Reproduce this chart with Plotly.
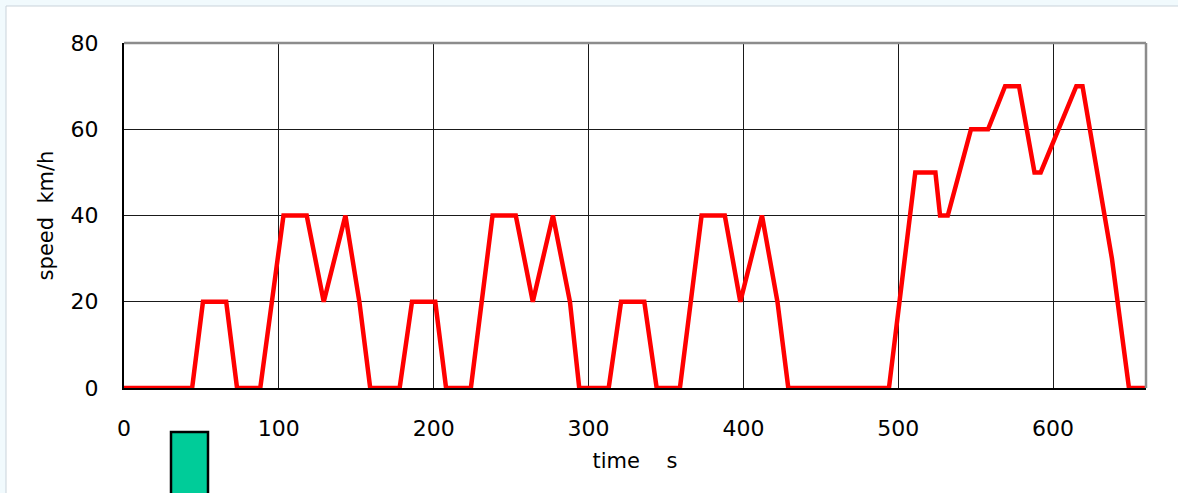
import plotly.graph_objects as go

# ---- data ----
time_s = [0, 44, 51, 66, 73, 88, 103, 118, 129, 143, 152, 159,
          178, 186, 201, 208, 224, 238, 253, 264, 277, 288, 294,
          313, 321, 336, 344, 359, 373, 388, 398, 412, 422, 429,
          494, 511, 524, 527, 532, 547, 558, 569, 578, 588, 592, 615, 619, 638, 649, 660]
speed_kmh = [0, 0, 20, 20, 0, 0, 40, 40, 20, 40, 20, 0,
             0, 20, 20, 0, 0, 40, 40, 20, 40, 20, 0,
             0, 20, 20, 0, 0, 40, 40, 20, 40, 20, 0,
             0, 50, 50, 40, 40, 60, 60, 70, 70, 50, 50, 70, 70, 30, 0, 0]

x_ticks = [0, 100, 200, 300, 400, 500, 600]
y_ticks = [0, 20, 40, 60, 80]
x_title = "time\u00a0\u00a0\u00a0\u00a0s"
y_title = "speed\u00a0\u00a0km/h"

# ---- layout geometry (pixels) ----
W, H = 1178, 493
L, R, T, B = 124, 32, 43, 105
PW, PH = W - L - R, H - T - B


def px_x(p):
    return (p - L) / PW


def px_y(p):
    return (H - B - p) / PH


FONT = "DejaVu Sans"

fig = go.Figure()
fig.add_trace(go.Scatter(
    x=time_s, y=speed_kmh, mode="lines",
    line=dict(color="#FF0000", width=4.5),
    showlegend=False, hoverinfo="x+y",
))

shapes = [
    # outer white panel with light frame
    dict(type="rect", xref="paper", yref="paper", layer="below",
         x0=px_x(6), x1=px_x(W + 20), y0=px_y(H + 20), y1=px_y(6),
         fillcolor="white", line=dict(color="#C9D3DA", width=1)),
    # top and right frame lines (gray)
    dict(type="line", xref="paper", yref="paper", x0=0, x1=1, y0=1, y1=1,
         line=dict(color="#8C8C8C", width=2.5)),
    dict(type="line", xref="paper", yref="paper", x0=1, x1=1, y0=0, y1=1,
         line=dict(color="#8C8C8C", width=2.5)),
    # green marker block under the axis
    dict(type="rect", xref="paper", yref="paper",
         x0=px_x(171), x1=px_x(208), y0=px_y(H + 10), y1=px_y(432),
         fillcolor="#00CC99", line=dict(color="black", width=2.5)),
]

fig.update_layout(
    width=W, height=H,
    margin=dict(l=L, r=R, t=T, b=B, pad=0),
    paper_bgcolor="#F1FAFD",
    plot_bgcolor="white",
    shapes=shapes,
    font=dict(family=FONT, color="black"),
    xaxis=dict(
        range=[0, 660], tickvals=x_ticks, ticktext=[str(v) for v in x_ticks],
        showgrid=True, gridcolor="#1A1A1A", gridwidth=1.2,
        showline=True, linecolor="black", linewidth=2,
        ticks="outside", ticklen=20, tickcolor="rgba(0,0,0,0)",
        tickfont=dict(size=22, family=FONT, color="black"),
        zeroline=False, fixedrange=True,
        title=dict(text=x_title, font=dict(size=21, family=FONT, color="black"), standoff=13),
    ),
    yaxis=dict(
        range=[0, 80], tickvals=y_ticks, ticktext=[str(v) for v in y_ticks],
        showgrid=True, gridcolor="#1A1A1A", gridwidth=1.2,
        showline=True, linecolor="black", linewidth=2,
        ticks="outside", ticklen=19, tickcolor="rgba(0,0,0,0)",
        tickfont=dict(size=22, family=FONT, color="black"),
        zeroline=False, fixedrange=True,
        title=dict(text=y_title, font=dict(size=21, family=FONT, color="black"), standoff=11),
    ),
)

fig.write_html("out.html", config={"displayModeBar": False})
